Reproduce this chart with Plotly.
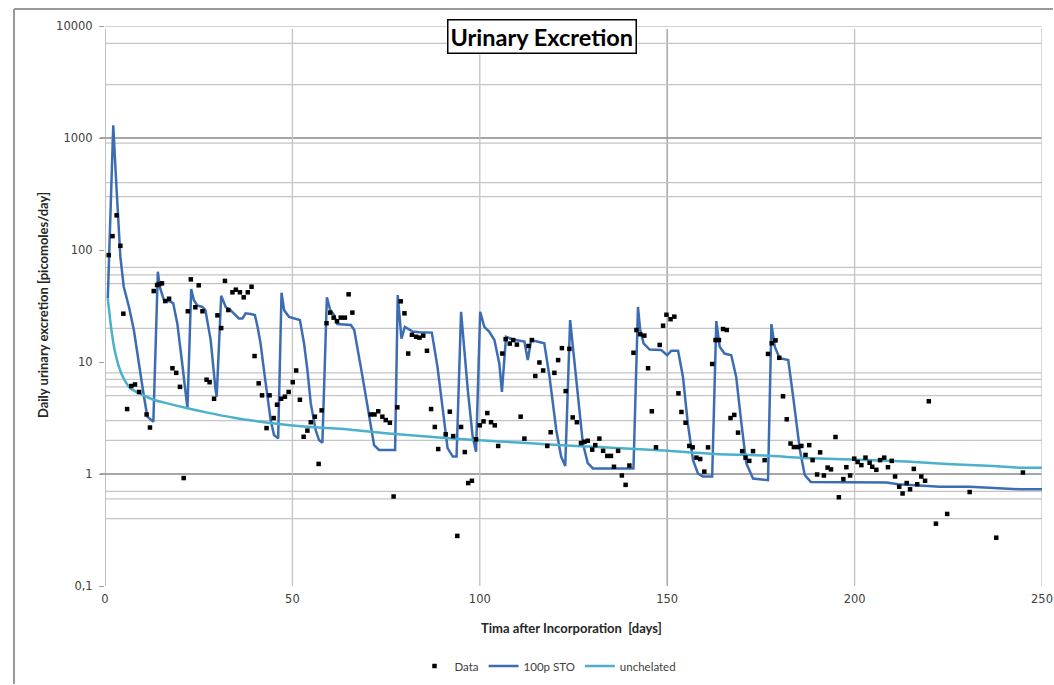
import plotly.graph_objects as go

# ---- measured data (day, picomoles/day) ----
data_day = [1.0, 2.0, 3.1, 4.1, 4.9, 5.9, 7.0, 8.0, 9.1, 11.1, 12.0, 13.0, 13.9, 14.5, 15.2, 16.1, 17.1, 18.0,
            19.0, 20.0, 21.0, 22.1, 22.9, 24.1, 25.0, 26.0, 27.1, 27.9, 29.1, 30.0, 31.0, 32.0, 32.9, 34.0,
            34.9, 36.0, 37.0, 38.1, 39.1, 39.9, 41.0, 41.9, 43.1, 43.9, 45.0, 45.9, 47.0, 48.0, 49.0, 50.1,
            51.0, 52.0, 53.0, 54.0, 54.9, 56.0, 57.0, 57.8, 59.1, 60.1, 61.0, 61.9, 62.9, 64.0, 65.0, 66.0,
            70.9, 71.9, 72.9, 74.0, 74.9, 76.0, 77.0, 78.0, 78.9, 79.9, 80.9, 81.9, 83.0, 83.9, 84.9, 85.9,
            87.0, 88.0, 88.9, 90.9, 92.0, 92.9, 94.0, 95.0, 96.0, 96.9, 97.9, 99.0, 100.0, 101.0, 102.0,
            103.0, 104.0, 104.9, 106.0, 106.9, 108.0, 108.9, 109.9, 110.9, 111.9, 113.0, 113.9, 114.8, 115.9,
            116.9, 118.0, 118.9, 119.9, 120.9, 121.9, 122.9, 123.9, 124.8, 125.9, 127.0, 127.9, 128.8, 130.0,
            130.8, 131.9, 132.9, 134.0, 135.0, 135.8, 136.9, 137.9, 138.9, 139.9, 141.0, 141.8, 142.8, 143.9,
            144.9, 145.9, 147.0, 148.0, 148.9, 149.8, 150.9, 151.9, 153.0, 153.8, 154.9, 155.9, 156.8, 157.8,
            158.8, 159.9, 160.9, 162.0, 162.9, 163.8, 164.9, 165.9, 166.9, 167.9, 168.9, 170.0, 170.9, 171.9,
            172.9, 176.0, 176.9, 177.9, 178.9, 179.9, 180.9, 181.9, 182.9, 183.8, 184.9, 185.8, 186.9, 187.9,
            188.8, 190.0, 190.8, 191.8, 192.8, 193.7, 194.9, 195.8, 197.0, 197.8, 198.8, 199.9, 200.8, 201.8,
            202.9, 204.0, 204.7, 205.8, 206.8, 207.9, 208.9, 209.9, 210.8, 211.9, 212.8, 213.9, 214.8, 215.8,
            216.7, 217.8, 218.8, 219.8, 221.7, 224.7, 230.7, 237.8, 244.9]
data_val = [90, 133, 204, 109, 27, 3.8, 6.1, 6.3, 5.4, 3.4, 2.6, 43, 48.7, 49.6, 50.4, 35, 36.7, 8.8,
            8.0, 6.0, 0.92, 28.4, 54.7, 30.8, 48.4, 28.4, 6.95, 6.6, 4.7, 26.1, 20.1, 53, 29.1, 41.9,
            44.2, 41.9, 37.8, 41.9, 47, 11.3, 6.45, 5.04, 2.57, 5.04, 3.16, 4.16, 4.7, 4.9, 5.4, 6.6,
            8.4, 4.6, 2.15, 2.44, 2.9, 3.25, 1.23, 3.7, 22.2, 27.6, 24.9, 23.1, 24.9, 24.9, 40.2, 27.6,
            3.4, 3.4, 3.63, 3.25, 3.03, 2.87, 0.63, 3.94, 34.8, 27.2, 11.9, 17.5, 16.8, 16.5, 17.2, 12.6,
            3.8, 2.63, 1.67, 2.26, 3.6, 2.18, 0.28, 2.63, 1.57, 0.83, 0.87, 2.04, 2.72, 2.95, 3.5,
            2.9, 2.72, 1.78, 11.9, 16.0, 14.6, 15.7, 14.3, 3.25, 2.07, 13.9, 15.7, 7.5, 9.9,
            8.4, 1.78, 2.36, 8.0, 10.4, 13.3, 5.5, 13.1, 3.2, 2.9, 1.89, 1.94, 1.98, 1.65,
            1.81, 2.07, 1.61, 1.45, 1.45, 1.16, 1.61, 0.97, 0.80, 1.19, 12.1, 19.3, 17.7, 17.2,
            8.8, 3.63, 1.73, 14.2, 21.1, 26.4, 24.1, 25.4, 5.25, 3.58, 2.87, 1.78, 1.73, 1.4,
            1.36, 1.05, 1.73, 9.6, 15.7, 15.7, 19.7, 19.3, 3.16, 3.37, 2.34, 1.6, 1.4, 1.31,
            1.6, 1.33, 11.8, 14.7, 15.6, 10.9, 4.94, 3.08, 1.87, 1.74, 1.74, 1.78, 1.48, 1.81,
            1.33, 0.99, 1.56, 0.97, 1.14, 1.1, 2.14, 0.62, 0.9, 1.15, 0.97, 1.37, 1.28, 1.2,
            1.4, 1.26, 1.16, 1.09, 1.33, 1.4, 1.15, 1.31, 0.95, 0.77, 0.67, 0.83, 0.73, 1.11,
            0.81, 0.95, 0.87, 4.46, 0.36, 0.44, 0.69, 0.27, 1.03]

# ---- model "100p STO" ----
sto_day = [0.75, 2.2, 3.1, 4.1, 5.0, 6.4, 7.7, 9.0, 10.4, 11.3, 12.2, 12.9, 14.1, 14.6, 15.7, 17.5, 18.2,
           19.3, 20.6, 22.0, 23.0, 23.7, 24.6, 26.0, 26.8, 28.2, 29.5, 29.8, 31.0, 32.2, 33.5, 34.9, 35.7,
           36.7, 37.5, 38.9, 40.0, 40.7, 41.5, 42.4, 43.3, 44.2, 45.1, 46.2, 47.1, 47.8, 49.1, 50.9, 52.0,
           53.1, 54.0, 54.9, 56.2, 57.1, 58.0, 59.2, 60.1, 61.1, 62.0, 65.6, 66.5, 68.7, 70.5, 71.8, 73.1,
           77.4, 78.1, 79.1, 80.0, 82.1, 83.8, 87.2, 88.7, 90.1, 91.4, 92.8, 93.8, 95.0, 96.8, 98.1, 99.0,
           100.1, 101.2, 102.5, 103.9, 105.2, 105.9, 107.0, 108.8, 111.9, 112.8, 113.7, 117.2, 118.6, 120.4,
           121.7, 122.8, 124.1, 125.3, 126.2, 127.5, 128.8, 130.2, 141.0, 142.2, 142.8, 143.7, 145.3, 148.4,
           150.0, 151.1, 152.9, 154.2, 155.5, 156.9, 158.2, 159.5, 162.0, 163.1, 164.0, 165.3, 167.1, 168.4,
           169.8, 171.1, 172.9, 176.9, 177.8, 178.7, 180.0, 182.3, 183.6, 185.4, 186.7, 188.3, 208.5, 211.6,
           222.8, 230.7, 244.1, 250.0]
sto_val = [37, 1300, 343, 87, 47, 31, 19.3, 9.7, 4.9, 3.25, 3.03, 2.93, 64, 47, 35.8, 34.5, 33.4,
           22, 9.7, 3.86, 44.9, 35.8, 32, 31, 29, 15.7, 5.6, 4.9, 39, 31, 29, 26.3, 24.5,
           24.5, 27.2, 26.8, 26.3, 20.6, 14.7, 8.5, 4.9, 3.03, 2.23, 2.08, 41.5, 29, 25.3, 24.5, 23.7,
           14.7, 8.5, 4.27, 2.47, 2.01, 1.9, 37.8, 29, 26.3, 21.8, 21.4, 19.3, 7.4, 3.25, 1.81, 1.64,
           1.64, 39.6, 16.2, 20.6, 18.7, 18.4, 18.3, 9.1, 3.99, 1.7, 1.43, 1.43, 28.1, 5.6, 2.15, 1.58,
           28.1, 20.6, 18.7, 15.7, 9.7, 5.4, 16.8, 15.9, 15.2, 10.4, 15.7, 14.7, 7.4, 2.47,
           1.43, 1.18, 23.7, 9.7, 4.27, 1.88, 1.25, 1.12, 1.12, 31, 19.3, 14.7, 12.9, 12.8,
           11.5, 12.6, 12.6, 7.4, 2.83, 1.33, 1.01, 0.95, 0.95, 23.2, 13.7, 11.9, 11.5, 7.4,
           2.83, 1.25, 0.91, 0.88, 21.8, 13.7, 10.8, 10.4, 4.9, 1.64, 0.98, 0.85, 0.84, 0.81,
           0.77, 0.77, 0.73, 0.73]

# ---- model "unchelated" ----
unch_day = [0.75, 1.5, 2.4, 3.7, 5.0, 6.8, 9.5, 13.0, 16.6, 22.0, 27.3, 34.4, 41.5, 48.6, 55.8, 62.9,
            74.9, 88.3, 99.0, 111.5, 125.7, 137.7, 150.2, 162.7, 176.0, 188.5, 199.6, 213.9, 224.6,
            237.0, 244.1, 250.0]
unch_val = [37, 22, 13.7, 9.1, 7.1, 5.8, 5.2, 4.6, 4.27, 3.86, 3.53, 3.18, 2.93, 2.74, 2.61, 2.54,
            2.31, 2.13, 2.01, 1.9, 1.78, 1.7, 1.61, 1.51, 1.46, 1.38, 1.35, 1.29, 1.23,
            1.18, 1.14, 1.14]

# ---- axes ----
x_tickvals = [0, 50, 100, 150, 200, 250]
y_tickvals = [0.1, 1, 10, 100, 1000, 10000]
y_ticktext = ["0,1", "1", "10", "100", "1000", "10000"]
grid_light_y = [0.4, 0.6, 0.7, 2, 3, 5, 6, 7, 8, 20, 50, 60, 70, 300, 400, 900, 3000, 7000, 10000]
grid_dark_y = [1, 1000]
grid_light_x = [50, 100, 200, 250]
grid_dark_x = [150]

W, H = 1054, 685
L, R, T, B = 105, 12, 26, 99
pw, ph = W - L - R, H - T - B


def px_x(p):
    return (p - L) / pw


def px_y(p):
    return (H - B - p) / ph


FONT = "Lato"
TICKFONT = "DejaVu Sans"
fig = go.Figure()

fig.add_trace(go.Scatter(x=sto_day, y=sto_val, mode="lines", name="100p STO",
                         line=dict(color="#3C6DB3", width=2.5), legendrank=2))
fig.add_trace(go.Scatter(x=unch_day, y=unch_val, mode="lines", name="unchelated",
                         line=dict(color="#4BB0CC", width=2.5, shape="spline", smoothing=0.6),
                         legendrank=3))
fig.add_trace(go.Scatter(x=data_day, y=data_val, mode="markers", name="Data",
                         marker=dict(symbol="square", size=4.5, color="#000000"), legendrank=1))

shapes = []
for v in grid_light_y:
    shapes.append(dict(type="line", xref="x", yref="y", x0=0, x1=250, y0=v, y1=v,
                       line=dict(color="#C4C4C4", width=1.3), layer="below"))
for v in grid_dark_y:
    shapes.append(dict(type="line", xref="paper", yref="y", x0=px_x(100), x1=1, y0=v, y1=v,
                       line=dict(color="#888888", width=1.3), layer="below"))
for v in grid_light_x:
    shapes.append(dict(type="line", xref="x", yref="paper", x0=v, x1=v, y0=0, y1=px_y(29),
                       line=dict(color="#C4C4C4", width=1.3), layer="below"))
for v in grid_dark_x:
    shapes.append(dict(type="line", xref="x", yref="paper", x0=v, x1=v, y0=0, y1=px_y(29),
                       line=dict(color="#999999", width=1.3), layer="below"))
# y axis line
shapes.append(dict(type="line", xref="x", yref="paper", x0=0, x1=0, y0=0, y1=px_y(29),
                   line=dict(color="#A0A0A0", width=1.3), layer="below"))
# outer chart frame (left and top edges visible inside the canvas)
shapes.append(dict(type="line", xref="paper", yref="paper", x0=px_x(14), x1=px_x(14),
                   y0=px_y(684), y1=px_y(9), line=dict(color="#9A9A9A", width=2), layer="below"))
shapes.append(dict(type="line", xref="paper", yref="paper", x0=px_x(14), x1=px_x(1053),
                   y0=px_y(9), y1=px_y(9), line=dict(color="#9A9A9A", width=2), layer="below"))

fig.update_layout(
    template="none",
    width=W, height=H, autosize=False,
    margin=dict(l=L, r=R, t=T, b=B, pad=0, autoexpand=False),
    paper_bgcolor="white", plot_bgcolor="white",
    shapes=shapes,
    showlegend=True,
    legend=dict(orientation="h", x=px_x(548), xanchor="center", y=px_y(666), yanchor="middle",
                font=dict(family=FONT, size=11.5, color="#404040"), bgcolor="rgba(0,0,0,0)",
                itemwidth=30, tracegroupgap=0),
    xaxis=dict(range=[0, 250], tickvals=x_tickvals, showgrid=False, zeroline=False, showline=False,
               automargin=False, ticks="",
               tickfont=dict(family=TICKFONT, size=11.5, color="#404040"), ticklabelstandoff=4),
    yaxis=dict(type="log", range=[-1, 4], tickvals=y_tickvals, ticktext=y_ticktext, showgrid=False,
               zeroline=False, showline=False, automargin=False, ticks="outside", ticklen=5,
               tickcolor="#A0A0A0",
               tickfont=dict(family=TICKFONT, size=11.5, color="#404040"), ticklabelstandoff=4),
    annotations=[
        dict(text="<b>Urinary Excretion</b>", xref="paper", yref="paper", x=px_x(542), y=px_y(36),
             xanchor="center", yanchor="middle", showarrow=False,
             font=dict(family=FONT, size=23.5, color="#000000"),
             bordercolor="#000000", borderwidth=1.5, borderpad=2, bgcolor="white"),
        dict(text="<b>Daily urinary excretion [picomoles/day]</b>", xref="paper", yref="paper",
             x=px_x(43), y=px_y(305), textangle=-90, xanchor="center", yanchor="middle",
             showarrow=False, font=dict(family=FONT, size=13, color="#262626")),
        dict(text="<b>Tima after Incorporation  [days]</b>", xref="paper", yref="paper",
             x=px_x(571), y=px_y(628), xanchor="center", yanchor="middle",
             showarrow=False, font=dict(family=FONT, size=13, color="#262626")),
    ],
)

fig.write_html(
    "out.html",
    post_script=("document.documentElement.style.margin='0';document.body.style.margin='0';"
                 "document.documentElement.style.overflow='hidden';document.body.style.overflow='hidden';"),
)
